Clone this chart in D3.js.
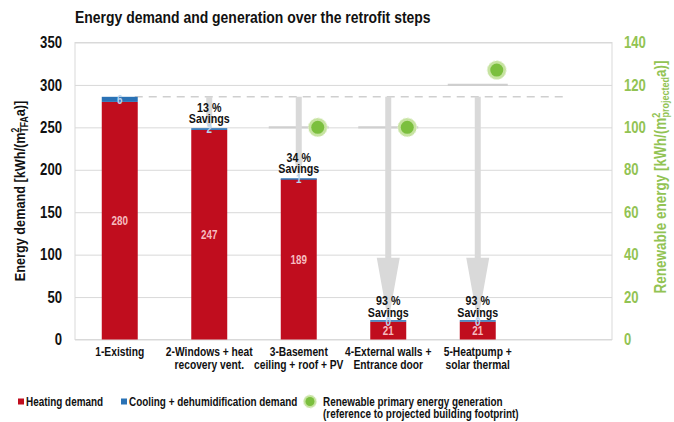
<!DOCTYPE html>
<html><head><meta charset="utf-8">
<script src="https://cdn.jsdelivr.net/npm/d3@7"></script>
<style>
html,body{margin:0;padding:0;background:#fff;}
svg{display:block;}
</style></head>
<body>
<svg id="chart" width="674" height="422"></svg>
<script>
// ---- data ----
const categories = ["1-Existing", "2-Windows + heat recovery vent.", "3-Basement ceiling + roof + PV", "4-External walls + Entrance door", "5-Heatpump + solar thermal", ""];
const categoryLines = [["1-Existing"], ["2-Windows + heat", "recovery vent."], ["3-Basement", "ceiling + roof + PV"], ["4-External walls +", "Entrance door"], ["5-Heatpump +", "solar thermal"], []];
const heating = [280, 247, 189, 21, 21];
const cooling = [6, 2, 1, 0, 0];
const savings = [null, 13, 34, 93, 93];
const renewable = [null, null, 100, 100, 127];
const renewableLevel = [null, null, 100, 100, 120];
const leftTicks = [0, 50, 100, 150, 200, 250, 300, 350];
const rightTicks = [0, 20, 40, 60, 80, 100, 120, 140];
const legendLabels = ["Heating demand", "Cooling + dehumidification demand", "Renewable primary energy generation", "(reference to projected building footprint)"];

// ---- layout/style ----
const FONT = "'Liberation Sans',Arial,sans-serif";
const NARROW = 0.82;
const RED = "#c00d1e", BLUE = "#2a72b5", GREEN = "#92c353", GRID = "#d9d9d9", ARROW = "#d9d9d9";
const L = 75, R = 612, T = 42.5, B = 339.5;

const svg = d3.select("#chart").style("font-family", FONT);

function condense(sel) {
  sel.each(function () {
    const w = this.getComputedTextLength();
    d3.select(this).attr("textLength", w * NARROW).attr("lengthAdjust", "spacingAndGlyphs");
  });
  return sel;
}

const x = d3.scaleBand().domain(categories).range([L, R]).paddingInner(0.598).paddingOuter(0.299);
const y = d3.scaleLinear().domain([0, 350]).range([B, T]);
const y2 = d3.scaleLinear().domain([0, 140]).range([B, T]);
const cx = i => x(categories[i]) + x.bandwidth() / 2;

// title
svg.append("text").attr("x", L).attr("y", 23).attr("font-size", 17).attr("font-weight", "bold")
  .attr("fill", "#111").text("Energy demand and generation over the retrofit steps").call(condense);

// gridlines + left axis
const gl = svg.append("g").attr("transform", `translate(${L},0)`)
  .call(d3.axisLeft(y).tickValues(leftTicks).tickSize(-(R - L)).tickPadding(13));
gl.select(".domain").remove();
gl.selectAll(".tick line").attr("stroke", GRID).attr("stroke-width", 1);
gl.selectAll(".tick text").attr("font-family", FONT).attr("font-size", 16).attr("font-weight", "bold").attr("fill", "#111").call(condense);

// right axis
const gr = svg.append("g").attr("transform", `translate(${R},0)`)
  .call(d3.axisRight(y2).tickValues(rightTicks).tickSize(0).tickPadding(12));
gr.select(".domain").remove();
gr.selectAll(".tick text").attr("font-family", FONT).attr("font-size", 16).attr("font-weight", "bold").attr("fill", GREEN).call(condense);

// plot border
svg.append("rect").attr("x", L).attr("y", T).attr("width", R - L).attr("height", B - T)
  .attr("fill", "none").attr("stroke", GRID).attr("stroke-width", 1);

// axis titles (condensed along the text direction)
const lt = svg.append("text").attr("transform", `translate(25,${(T + B) / 2}) rotate(-90) scale(${NARROW},1)`)
  .attr("text-anchor", "middle").attr("font-size", 15.5).attr("font-weight", "bold").attr("fill", "#111");
lt.append("tspan").text("Energy demand [kWh/(m");
lt.append("tspan").attr("font-size", 10.5).attr("dy", -6).text("2");
lt.append("tspan").attr("font-size", 10.5).attr("dy", 9).attr("dx", -6).text("TFA");
lt.append("tspan").attr("dy", -3).text("a)]");

const rt = svg.append("text").attr("transform", `translate(666,177) rotate(-90) scale(${NARROW},1)`)
  .attr("text-anchor", "middle").attr("font-size", 16.5).attr("font-weight", "bold").attr("fill", GREEN);
rt.append("tspan").text("Renewable energy [kWh/(m");
rt.append("tspan").attr("font-size", 11).attr("dy", -6).text("2");
rt.append("tspan").attr("font-size", 11).attr("dy", 9).attr("dx", -6).text("projected");
rt.append("tspan").attr("dy", -3).text("a)]");

// reference dashed line (existing total)
const refTotal = heating[0] + cooling[0];
svg.append("line").attr("x1", cx(0) + x.bandwidth() / 2 - 3).attr("x2", R - 45)
  .attr("y1", y(refTotal)).attr("y2", y(refTotal))
  .attr("stroke", "#cfcfcf").attr("stroke-width", 1.6).attr("stroke-dasharray", "8,6");

// renewable level lines
renewableLevel.forEach((v, i) => {
  if (v == null) return;
  svg.append("line").attr("x1", cx(i) - 30).attr("x2", cx(i) + 30)
    .attr("y1", y2(v)).attr("y2", y2(v)).attr("stroke", "#cfcfcf").attr("stroke-width", 2.2);
});

// arrows
heating.forEach((h, i) => {
  if (savings[i] == null) return;
  const y0 = y(refTotal), y1 = y(h + cooling[i]);
  const len = y1 - y0;
  const hl = len > 150 ? 64 : Math.max(8, len * 0.27);
  const hw = len > 150 ? 11.5 : 5;
  const sw = 3;
  const c = cx(i);
  const p = d3.path();
  p.moveTo(c - sw, y0); p.lineTo(c + sw, y0); p.lineTo(c + sw, y1 - hl); p.lineTo(c + hw, y1 - hl);
  p.lineTo(c, y1); p.lineTo(c - hw, y1 - hl); p.lineTo(c - sw, y1 - hl); p.closePath();
  svg.append("path").attr("d", p.toString()).attr("fill", ARROW);
});

// bars
const bars = svg.append("g");
heating.forEach((h, i) => {
  bars.append("rect").attr("x", x(categories[i])).attr("width", x.bandwidth())
    .attr("y", y(h)).attr("height", y(0) - y(h)).attr("fill", RED);
  const c = cooling[i];
  bars.append("rect").attr("x", x(categories[i])).attr("width", x.bandwidth())
    .attr("y", y(h + c) - (c === 0 ? 1.5 : 0)).attr("height", Math.max(1.5, y(h) - y(h + c))).attr("fill", BLUE);
});

// value labels
heating.forEach((h, i) => {
  svg.append("text").attr("x", cx(i)).attr("y", y(h / 2)).attr("dy", "0.35em").attr("text-anchor", "middle")
    .attr("font-size", 12).attr("font-weight", "bold").attr("fill", "#f6bcc0").text(h).call(condense);
  svg.append("text").attr("x", cx(i)).attr("y", y(h + cooling[i] / 2)).attr("dy", "0.35em").attr("text-anchor", "middle")
    .attr("font-size", 12).attr("font-weight", "bold").attr("fill", "#b8d4ef").text(cooling[i]).call(condense);
});

// savings labels
savings.forEach((s, i) => {
  if (s == null) return;
  const top = y(heating[i] + cooling[i]);
  [s + " %", "Savings"].forEach((txt, j) => {
    svg.append("text").attr("x", cx(i)).attr("y", top - 21 + j * 11.5).attr("dy", "0.35em").attr("text-anchor", "middle")
      .attr("font-size", 13).attr("font-weight", "bold").attr("fill", "#111").text(txt).call(condense);
  });
});

// renewable markers
function marker(g, px, py, r) {
  g.append("circle").attr("cx", px).attr("cy", py).attr("r", r * 1.45).attr("fill", "#c6e3a0");
  g.append("circle").attr("cx", px).attr("cy", py).attr("r", r * 1.45).attr("fill", "none")
    .attr("stroke", "#e3f1cf").attr("stroke-width", 1).attr("stroke-dasharray", "2,2");
  g.append("circle").attr("cx", px).attr("cy", py).attr("r", r).attr("fill", "#7bbf3e");
}
renewable.forEach((v, i) => {
  if (v == null) return;
  marker(svg, cx(i) + 19, y2(v), 6.5);
});

// x labels
categoryLines.forEach((lines, i) => {
  lines.forEach((ln, j) => {
    svg.append("text").attr("x", cx(i)).attr("y", 352 + j * 12.5).attr("dy", "0.35em").attr("text-anchor", "middle")
      .attr("font-size", 12.5).attr("font-weight", "bold").attr("fill", "#111").text(ln).call(condense);
  });
});

// legend
const lg = svg.append("g").attr("font-weight", "bold").attr("fill", "#111");
lg.append("rect").attr("x", 18).attr("y", 398.5).attr("width", 6).attr("height", 6).attr("fill", RED);
lg.append("rect").attr("x", 121).attr("y", 398.5).attr("width", 6).attr("height", 6).attr("fill", BLUE);
marker(lg, 310, 401.5, 4.5);
[[26, 402, 0], [129, 402, 1], [323, 402, 2], [323, 414, 3]].forEach(([lx, ly, k]) => {
  lg.append("text").attr("x", lx).attr("y", ly).attr("dy", "0.35em").attr("font-size", 12.1)
    .text(legendLabels[k]).call(condense);
});
</script>
</body></html>
